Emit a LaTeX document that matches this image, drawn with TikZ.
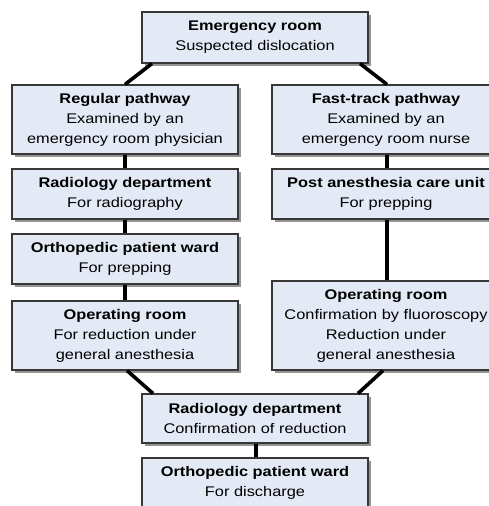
\documentclass[tikz,border=0pt]{standalone}
\usepackage{fontspec}
\setmainfont[FakeStretch=1.17]{Liberation Sans}
\usetikzlibrary{shadows}
\definecolor{boxfill}{RGB}{228,234,245}
\definecolor{boxline}{RGB}{55,55,55}
\begin{document}
\begin{tikzpicture}[x=1pt,y=-1pt,
  box/.style={draw=boxline, line width=1.1pt, fill=boxfill, align=center, inner sep=0pt,
    font=\fontsize{14}{20}\selectfont,
    drop shadow={shadow xshift=2.5pt, shadow yshift=-3pt, fill=black!60, opacity=0.7}},
  link/.style={line width=3.6pt, black}]
\useasboundingbox (0,0) rectangle (488,506);
\node[box, minimum width=226pt, minimum height=51pt] (er) at (255,37.5) {\textbf{Emergency room}\\Suspected dislocation};
\node[box, minimum width=226pt, minimum height=69pt] (reg) at (125,119.5) {\textbf{Regular pathway}\\Examined by an\\emergency room physician};
\node[box, minimum width=228pt, minimum height=69pt] (fast) at (386,119.5) {\textbf{Fast-track pathway}\\Examined by an\\emergency room nurse};
\node[box, minimum width=226pt, minimum height=50pt] (rad1) at (125,194) {\textbf{Radiology department}\\For radiography};
\node[box, minimum width=228pt, minimum height=50pt] (post) at (386,194) {\textbf{Post anesthesia care unit}\\For prepping};
\node[box, minimum width=226pt, minimum height=50pt] (ortho1) at (125,259) {\textbf{Orthopedic patient ward}\\For prepping};
\node[box, minimum width=226pt, minimum height=69pt] (op1) at (125,335.5) {\textbf{Operating room}\\For reduction under\\general anesthesia};
\node[box, minimum width=228pt, minimum height=89pt] (op2) at (386,325.5) {\textbf{Operating room}\\Confirmation by fluoroscopy\\Reduction under\\general anesthesia};
\node[box, minimum width=226pt, minimum height=49pt] (rad2) at (255,418.5) {\textbf{Radiology department}\\Confirmation of reduction};
\node[box, minimum width=226pt, minimum height=50pt] (ortho2) at (255,483) {\textbf{Orthopedic patient ward}\\For discharge};
\draw[link] ([xshift=-103pt]er.south) -- (reg.north);
\draw[link] ([xshift=105pt]er.south) -- ([xshift=1pt]fast.north);
\draw[link] (reg.south) -- (rad1.north);
\draw[link] (rad1.south) -- (ortho1.north);
\draw[link] (ortho1.south) -- (op1.north);
\draw[link] ([xshift=1pt]fast.south) -- ([xshift=1pt]post.north);
\draw[link] ([xshift=1pt]post.south) -- ([xshift=1pt]op2.north);
\draw[link] ([xshift=2pt]op1.south) -- ([xshift=-102pt]rad2.north);
\draw[link] ([xshift=-3pt]op2.south) -- ([xshift=103pt]rad2.north);
\draw[link] ([xshift=1pt]rad2.south) -- ([xshift=1pt]ortho2.north);
\end{tikzpicture}
\end{document}
